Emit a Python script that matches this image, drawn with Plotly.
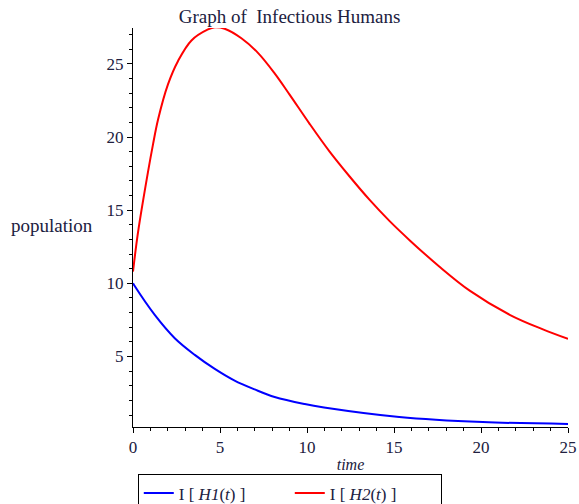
import plotly.graph_objects as go

# Data
t_h1 = [0, 0.06, 1.25, 2.4, 3.55, 4.7, 5.84, 6.99, 8.14, 9.87, 10.98, 15.3, 20.1, 25]
h1 = [10.0, 9.88, 7.84, 6.25, 5.11, 4.15, 3.35, 2.75, 2.23, 1.75, 1.52, 0.87, 0.52, 0.39]

t_h2 = [0, 0.29, 0.86, 1.15, 1.44, 2.01, 2.59, 3.36, 4.31, 4.7, 5.27, 6.23, 7.18, 8.14,
        9.0, 10.15, 11.3, 12.45, 13.6, 14.75, 15.94, 17.6, 19.35, 21.65, 23.56, 25]
h2 = [10.8, 13.5, 17.6, 19.5, 21.2, 23.6, 25.2, 26.6, 27.35, 27.5, 27.4, 26.75, 25.75, 24.35,
      22.9, 20.9, 19.0, 17.3, 15.7, 14.25, 12.9, 11.15, 9.5, 7.85, 6.85, 6.2]

x_ticks = [0, 5, 10, 15, 20, 25]
y_ticks = [5, 10, 15, 20, 25]

SERIF = "Liberation Serif, Times New Roman, serif"
TXT = "#202040"

fig = go.Figure()
fig.add_trace(go.Scatter(x=t_h1, y=h1, mode="lines", line=dict(color="#0000ff", width=2, shape="spline"),
                         name="I [ <i>H1</i>(<i>t</i>) ]"))
fig.add_trace(go.Scatter(x=t_h2, y=h2, mode="lines", line=dict(color="#ff0000", width=2, shape="spline"),
                         name="I [ <i>H2</i>(<i>t</i>) ]"))

fig.update_layout(
    width=579, height=504,
    margin=dict(l=133, r=11, t=28, b=77, autoexpand=False),
    paper_bgcolor="white", plot_bgcolor="white",
    font=dict(family=SERIF, size=17, color="black"),
    title=dict(text="Graph of  Infectious Humans", x=0.5, xanchor="center", y=0.968, yanchor="middle",
               font=dict(family=SERIF, size=19, color=TXT)),
    showlegend=True,
    legend=dict(orientation="h", x=0.011, y=-0.119, xanchor="left", yanchor="top",
                bordercolor="black", borderwidth=1, bgcolor="white",
                font=dict(family=SERIF, size=17, color="#202040"),
                entrywidth=106, tracegroupgap=0),
)

fig.update_xaxes(range=[0, 25], tickvals=x_ticks, ticks="outside", ticklen=5, tickcolor="black",
                 showline=True, linecolor="black", linewidth=1, showgrid=False, zeroline=False,
                 tickfont=dict(family=SERIF, size=17, color=TXT),
                 minor=dict(dtick=1, ticks="outside", ticklen=3, tickcolor="black", showgrid=False),
                 title=dict(text="<i>time</i>", font=dict(family=SERIF, size=16, color=TXT), standoff=2))
fig.update_yaxes(range=[0.18, 27.45], tickvals=y_ticks, ticks="outside", ticklen=5, tickcolor="black",
                 showline=True, linecolor="black", linewidth=1, showgrid=False, zeroline=False,
                 tickfont=dict(family=SERIF, size=17, color=TXT),
                 minor=dict(dtick=1, ticks="outside", ticklen=3, tickcolor="black", showgrid=False))

fig.add_annotation(text="population", xref="paper", yref="paper", x=-0.285, y=0.505, xanchor="left",
                   showarrow=False, font=dict(family=SERIF, size=19, color=TXT))

fig.write_html("out.html", config={"displayModeBar": False},
               post_script="document.body.style.margin='0';document.body.style.padding='0';")
